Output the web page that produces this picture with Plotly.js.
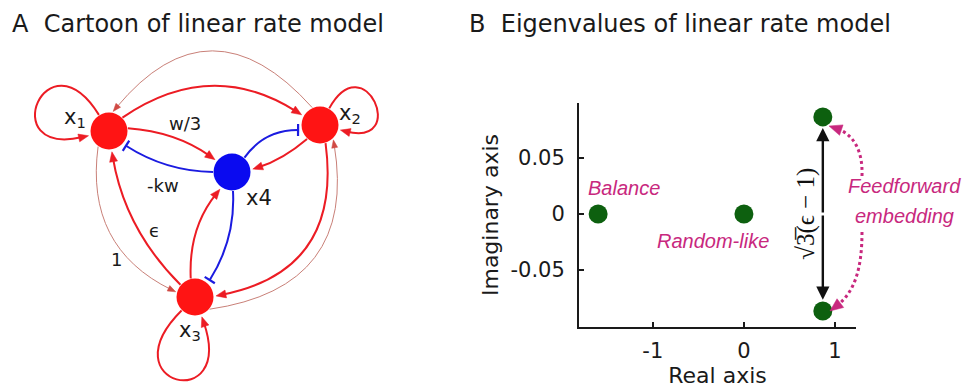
<!DOCTYPE html>
<html><head><meta charset="utf-8">
<script src="https://cdn.plot.ly/plotly-3.0.1.min.js"></script>
<style>html,body{margin:0;padding:0;background:#fff}</style>
</head><body><div id="chart" style="width:966px;height:389px"></div>
<script>
// ---------- Panel B data: eigenvalues ----------
const eigNames = ['Balance', 'Random-like', 'Feedforward (+)', 'Feedforward (-)'];
const eigReal = [-1.6, 0, 0.866, 0.866];
const eigImag = [0, 0, 0.0866, -0.0866];
const xTickVals = [-1, 0, 1];
const xTickText = ['-1', '0', '1'];
const yTickVals = [-0.05, 0, 0.05];
const yTickText = ['-0.05', '0', '0.05'];

// ---------- Panel A data: network ----------
const nodeNames = ['x<sub>1</sub>', 'x<sub>2</sub>', 'x<sub>3</sub>', 'x4'];
const nodeType = ['exc', 'exc', 'exc', 'inh'];
const edgeFrom = [0, 1, 2, 0, 1, 0, 3, 3, 1, 3, 2, 2, 0, 1, 2];
const edgeTo   = [0, 1, 2, 1, 0, 3, 0, 1, 3, 2, 3, 0, 2, 2, 1];
const edgeKind = ['loop','loop','loop','strong','weak','strong','inhib','inhib','strong','inhib','strong','strong','weak','strong','weak'];
const edgeLabelText = ['w/3', '-kw', 'ϵ', '1'];
const edgeLabelEdge = [5, 6, 11, 12];

// ---------- Layout of the cartoon (positions / styles) ----------
const nodePosX = [109, 320, 195, 232];
const nodePosY = [131, 125, 297, 172];
const nodeLabelPos = [[75,118],[350,114],[190,331],[259,198]];
const edgeGeom = [ // [exit angle, entry angle, bend or loop size]
  [-122,167,118],[-61,14,92],[135,71,125],
  [-45,-151,0.33],[-114,-78,-0.58],[-8,-144,0.14],[180,41,0.143],
  [-49,167,0.26],[133,-8,0.1],[87,-49,0.16],[-103,125,0.19],
  [-140,82,0.16],[125,-165,-0.36],[73,-3,0.47],[40,48,-0.51]
];
const edgeLabelPos = [[185,123],[163,185],[154,230],[116,259]];

const R = 18.5;
const RED = '#ec1c24', BLUE = '#1b1be0', WEAK = '#c98078', MAG = '#c8287e';
function dir(a){ const r = a*Math.PI/180; return [Math.cos(r), Math.sin(r)]; }
function onNode(i, a, d){ const u = dir(a); return [nodePosX[i]+d*u[0], nodePosY[i]+d*u[1]]; }
function norm(v){ const l = Math.hypot(v[0], v[1]); return [v[0]/l, v[1]/l]; }
function p(pt){ return pt[0].toFixed(2)+','+pt[1].toFixed(2); }

const shapes = [];
function head(tip, u, L, W, color){
  const b = [tip[0]-L*u[0], tip[1]-L*u[1]];
  const n = [-u[1], u[0]];
  shapes.push({type:'path', xref:'x2', yref:'y2', layer:'above',
    path:'M'+p(tip)+' L'+p([b[0]+W/2*n[0], b[1]+W/2*n[1]])+' L'+p([b[0]-W/2*n[0], b[1]-W/2*n[1]])+' Z',
    fillcolor:color, line:{color:color, width:0.5}});
}
edgeFrom.forEach((s, i) => {
  const t = edgeTo[i], kind = edgeKind[i], g = edgeGeom[i];
  if (kind === 'loop') {
    const P0 = onNode(s, g[0], R+0.5), P1 = onNode(t, g[1], R+2.5);
    const d0 = dir(g[0]), d1 = dir(g[1]);
    const C1 = [nodePosX[s]+g[2]*d0[0], nodePosY[s]+g[2]*d0[1]];
    const C2 = [nodePosX[s]+g[2]*d1[0], nodePosY[s]+g[2]*d1[1]];
    const u = norm([P1[0]-C2[0], P1[1]-C2[1]]);
    const E = [P1[0]-6*u[0], P1[1]-6*u[1]];
    shapes.push({type:'path', xref:'x2', yref:'y2', layer:'above',
      path:'M'+p(P0)+' C'+p(C1)+' '+p(C2)+' '+p(E), line:{color:RED, width:2}});
    head(P1, u, 10, 8, RED);
    return;
  }
  const endD = kind === 'inhib' ? R+4 : (kind === 'weak' ? R+1.5 : R+2.5);
  const P0 = onNode(s, g[0], R+0.5), P1 = onNode(t, g[1], endD);
  const d = [P1[0]-P0[0], P1[1]-P0[1]], len = Math.hypot(d[0], d[1]);
  const nrm = [d[1]/len, -d[0]/len];
  const C = [(P0[0]+P1[0])/2 + g[2]*len*nrm[0], (P0[1]+P1[1])/2 + g[2]*len*nrm[1]];
  const u = norm([P1[0]-C[0], P1[1]-C[1]]);
  if (kind === 'inhib') {
    shapes.push({type:'path', xref:'x2', yref:'y2', layer:'above',
      path:'M'+p(P0)+' Q'+p(C)+' '+p(P1), line:{color:BLUE, width:2}});
    const n = [-u[1], u[0]];
    shapes.push({type:'path', xref:'x2', yref:'y2', layer:'above',
      path:'M'+p([P1[0]+6*n[0], P1[1]+6*n[1]])+' L'+p([P1[0]-6*n[0], P1[1]-6*n[1]]),
      line:{color:BLUE, width:2.2}});
  } else {
    const strong = kind === 'strong';
    const col = strong ? RED : WEAK, L = strong ? 10 : 8, W = strong ? 8 : 6;
    const E = [P1[0]-0.6*L*u[0], P1[1]-0.6*L*u[1]];
    shapes.push({type:'path', xref:'x2', yref:'y2', layer:'above',
      path:'M'+p(P0)+' Q'+p(C)+' '+p(E), line:{color:col, width: strong ? 2 : 1}});
    head(P1, u, L, W, strong ? RED : '#d04a44');
  }
});

// magenta dotted arrows (panel B, pixel canvas)
const dotPaths = [
  {P0:[862,176], C1:[863,150], C2:[853,134], tip:[829,126]},
  {P0:[862,232], C1:[862,268], C2:[855,292], tip:[830,311]}
];
dotPaths.forEach(dp => {
  const u = norm([dp.tip[0]-dp.C2[0], dp.tip[1]-dp.C2[1]]);
  const E = [dp.tip[0]-8*u[0], dp.tip[1]-8*u[1]];
  shapes.push({type:'path', xref:'x2', yref:'y2', layer:'above',
    path:'M'+p(dp.P0)+' C'+p(dp.C1)+' '+p(dp.C2)+' '+p(E), line:{color:MAG, width:3, dash:'dot'}});
  head(dp.tip, u, 13, 11, MAG);
});

const FONT = 'DejaVu Sans';
const annotations = [];
annotations.push({xref:'paper', yref:'paper', x:10/966, y:1-24/389, xanchor:'left', yanchor:'middle',
  text:'A\u00a0 Cartoon of linear rate model', showarrow:false, font:{family:FONT, size:24, color:'#1a1a1a'}});
annotations.push({xref:'paper', yref:'paper', x:467/966, y:1-24/389, xanchor:'left', yanchor:'middle',
  text:'B\u00a0 Eigenvalues of linear rate model', showarrow:false, font:{family:FONT, size:24, color:'#1a1a1a'}});
nodeNames.forEach((nm, i) => annotations.push({xref:'x2', yref:'y2', x:nodeLabelPos[i][0], y:nodeLabelPos[i][1],
  text:nm, showarrow:false, font:{family:FONT, size:21, color:'#1a1a1a'}}));
edgeLabelText.forEach((t, i) => annotations.push({xref:'x2', yref:'y2', x:edgeLabelPos[i][0], y:edgeLabelPos[i][1],
  text:t, showarrow:false, font:{family:FONT, size:18, color:'#1a1a1a'}}));

// panel B annotations
const magFont = {family:'Liberation Sans', size:20, color:MAG, style:'italic'};
annotations.push({xref:'x', yref:'y', x:-1.32, y:0.0232, text:eigNames[0], showarrow:false, font:magFont});
annotations.push({xref:'x', yref:'y', x:-0.34, y:-0.024, text:eigNames[1], showarrow:false, font:magFont});
annotations.push({xref:'paper', yref:'paper', x:904/966, y:1-186/389, xanchor:'center', yanchor:'middle',
  text:'Feedforward', showarrow:false, font:magFont});
annotations.push({xref:'paper', yref:'paper', x:904/966, y:1-216/389, xanchor:'center', yanchor:'middle',
  text:'embedding', showarrow:false, font:magFont});
annotations.push({xref:'x', yref:'y', x:0.68, y:0.0, text:'√3̅(ϵ − 1)', textangle:-90, showarrow:false,
  font:{family:'Liberation Serif', size:25, color:'#111'}});
[2, 3].forEach(k => annotations.push({xref:'x', yref:'y', axref:'x', ayref:'y',
  x:eigReal[k], y:eigImag[k]*0.885, ax:eigReal[k], ay:0, text:'', showarrow:true,
  arrowhead:2, arrowsize:1.1, arrowwidth:2.4, arrowcolor:'#111'}));

const traces = [
  {type:'scatter', mode:'markers', xaxis:'x2', yaxis:'y2', x:nodePosX, y:nodePosY, hoverinfo:'skip',
   marker:{size:37, color:nodeType.map(t => t === 'exc' ? '#ff1414' : '#0a0af0'), line:{width:0}}},
  {type:'scatter', mode:'markers', xaxis:'x', yaxis:'y', x:eigReal, y:eigImag, text:eigNames, cliponaxis:false,
   marker:{size:19, color:'#0d600f', line:{width:0}}}
];

const axFont = {family:FONT, size:21, color:'#1a1a1a'};
const layout = {
  width:966, height:389, margin:{l:0, r:0, t:0, b:0},
  paper_bgcolor:'#ffffff', plot_bgcolor:'rgba(0,0,0,0)', showlegend:false,
  xaxis:{domain:[579/966, 856/966], range:[-1.81, 1.23], anchor:'y', tickmode:'array',
    tickvals:xTickVals, ticktext:xTickText, ticks:'inside', ticklen:5, tickwidth:1.5, tickcolor:'#1a1a1a',
    showline:true, linecolor:'#1a1a1a', linewidth:2, showgrid:false, zeroline:false, tickfont:axFont,
    ticklabelstandoff:4, title:{text:'Real axis', font:{family:FONT, size:22, color:'#1a1a1a'}, standoff:4}},
  yaxis:{domain:[62/389, 286/389], range:[-0.1009, 0.099], anchor:'x', tickmode:'array',
    tickvals:yTickVals, ticktext:yTickText, ticks:'inside', ticklen:5, tickwidth:1.5, tickcolor:'#1a1a1a',
    showline:true, linecolor:'#1a1a1a', linewidth:2, showgrid:false, zeroline:false, tickfont:axFont,
    ticklabelstandoff:8, title:{text:'Imaginary axis', font:{family:FONT, size:22, color:'#1a1a1a'}, standoff:6}},
  xaxis2:{domain:[0,1], range:[0,966], anchor:'y2', visible:false, fixedrange:true},
  yaxis2:{domain:[0,1], range:[389,0], anchor:'x2', visible:false, fixedrange:true},
  shapes:shapes, annotations:annotations
};
Plotly.newPlot('chart', traces, layout, {staticPlot:true, displayModeBar:false});
</script></body></html>
